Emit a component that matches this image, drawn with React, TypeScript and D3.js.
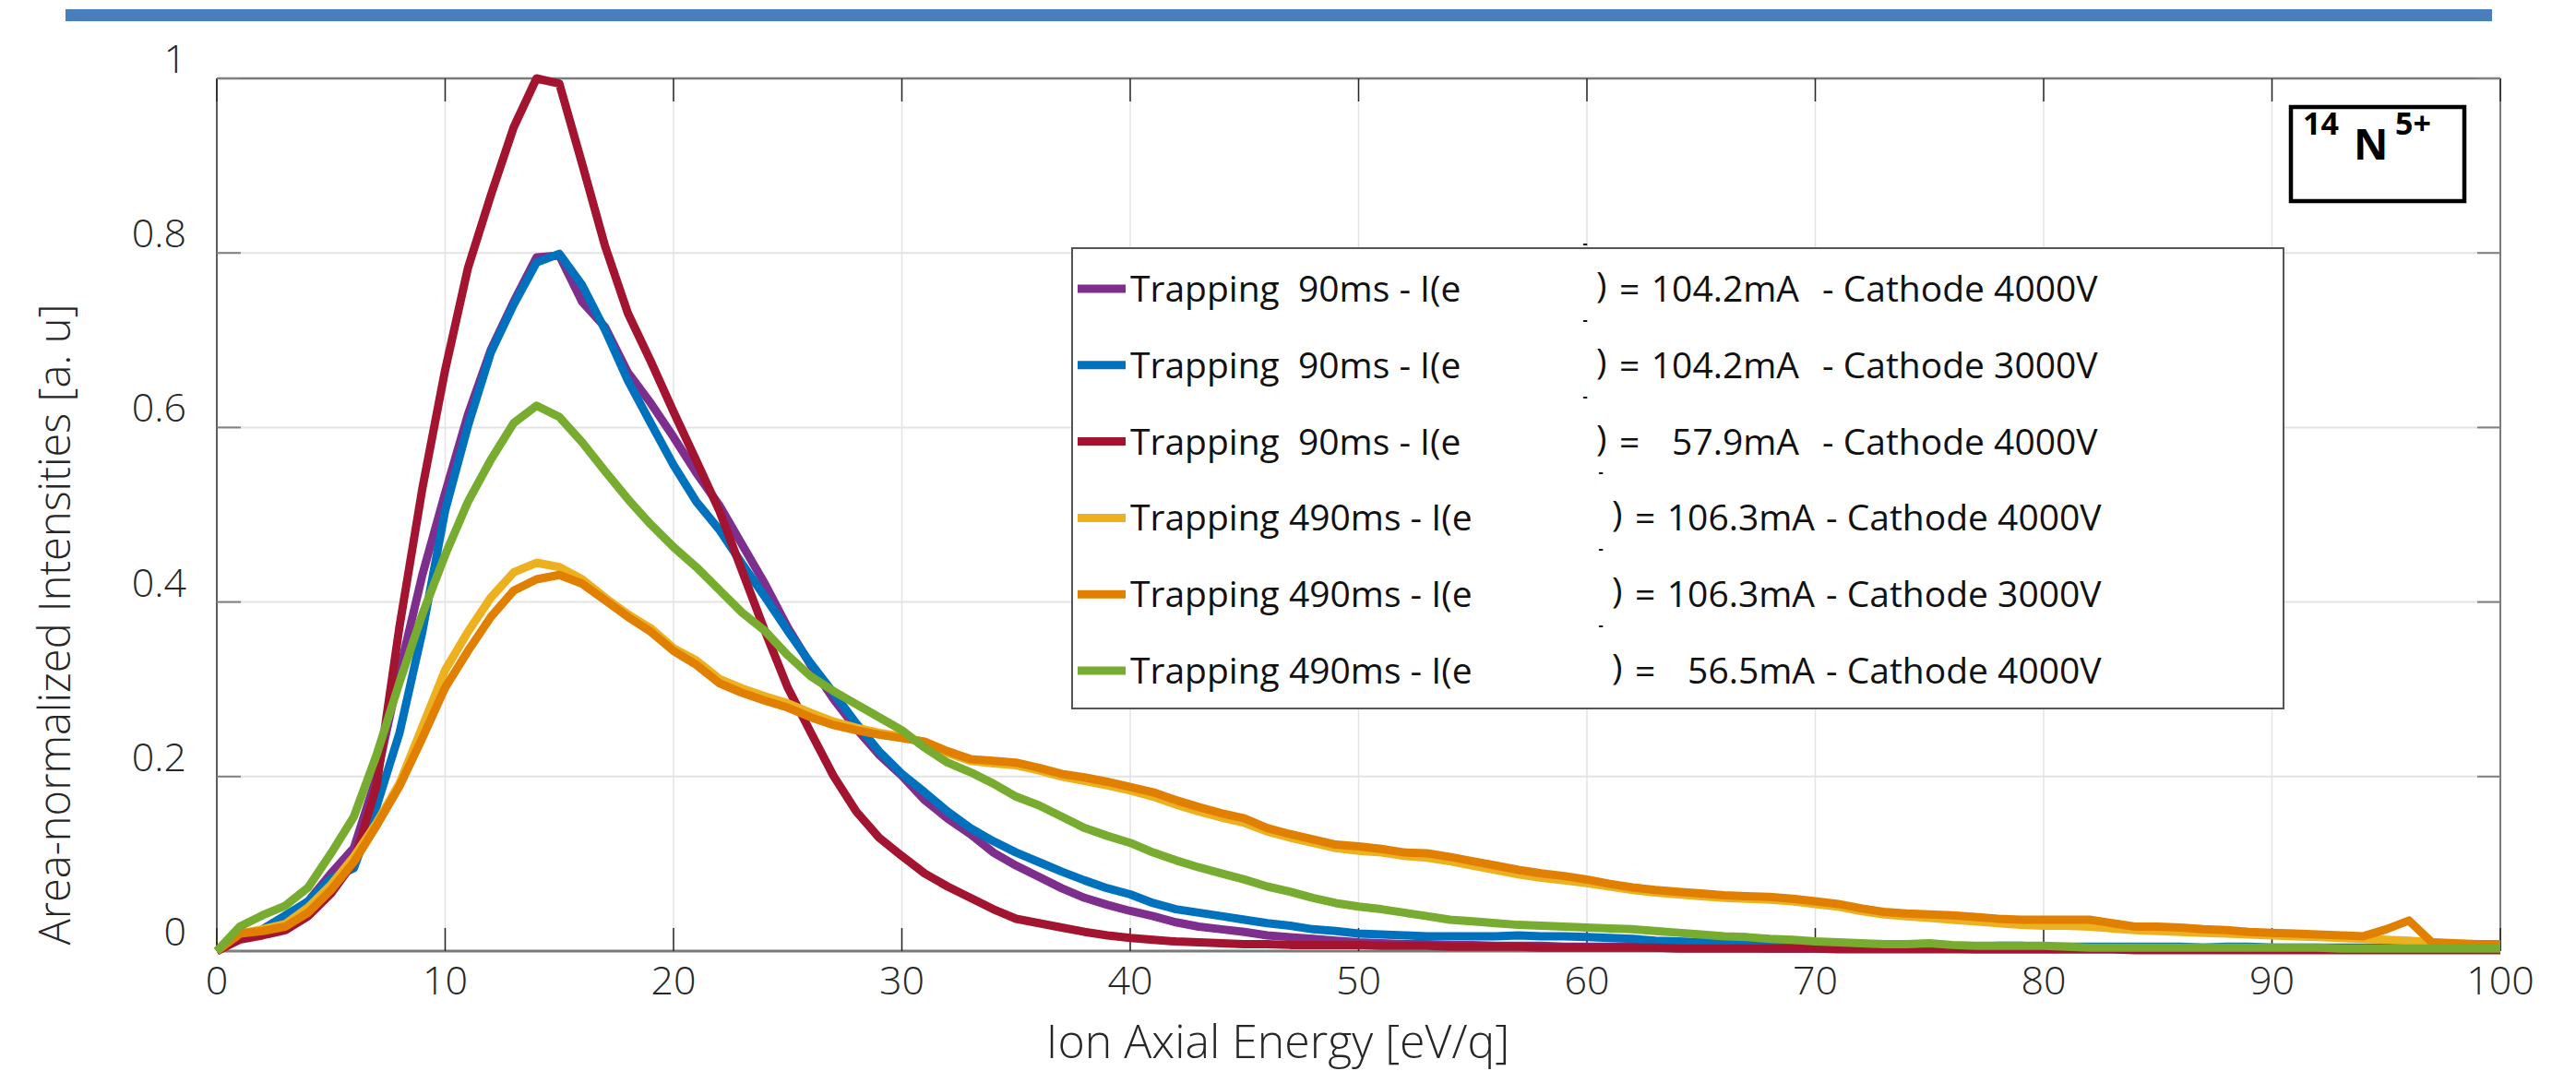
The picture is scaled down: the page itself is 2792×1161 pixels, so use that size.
import React from "react";
import * as d3 from "d3";

// Ion axial energy grid [eV/q]
const energies = [
  0, 1, 2, 3, 4, 5, 6, 7, 8, 9, 10, 11, 12, 13, 14, 15, 16, 17, 18, 19,
  20, 21, 22, 23, 24, 25, 26, 27, 28, 29, 30, 31, 32, 33, 34, 35, 36, 37, 38, 39,
  40, 41, 42, 43, 44, 45, 46, 47, 48, 49, 50, 51, 52, 53, 54, 55, 56, 57, 58, 59,
  60, 61, 62, 63, 64, 65, 66, 67, 68, 69, 70, 71, 72, 73, 74, 75, 76, 77, 78, 79,
  80, 81, 82, 83, 84, 85, 86, 87, 88, 89, 90, 91, 92, 93, 94, 95, 96, 97, 98, 99, 100,
];

// 90ms, 104.2mA, cathode 4000V
const purple90 = [
  0, 0.015, 0.021, 0.037, 0.057, 0.089, 0.118, 0.2, 0.32, 0.431,
  0.525, 0.615, 0.689, 0.744, 0.795, 0.797, 0.744, 0.715, 0.663, 0.628,
  0.589, 0.548, 0.511, 0.466, 0.421, 0.371, 0.328, 0.289, 0.255, 0.225,
  0.201, 0.173, 0.152, 0.134, 0.113, 0.098, 0.085, 0.072, 0.061, 0.053,
  0.046, 0.04, 0.033, 0.028, 0.025, 0.022, 0.018, 0.016, 0.014, 0.012,
  0.01, 0.009, 0.008, 0.008, 0.007, 0.007, 0.006, 0.006, 0.006, 0.005,
  0.005, 0.005, 0.005, 0.004, 0.004, 0.004, 0.004, 0.004, 0.003, 0.003,
  0.003, 0.003, 0.003, 0.003, 0.003, 0.003, 0.003, 0.002, 0.002, 0.002,
  0.002, 0.002, 0.002, 0.002, 0.002, 0.002, 0.002, 0.002, 0.002, 0.002,
  0.002, 0.002, 0.002, 0.002, 0.002, 0.002, 0.002, 0.002, 0.002, 0.002,
  0.002,
];

// 90ms, 104.2mA, cathode 3000V
const blue90 = [
  0, 0.015, 0.025, 0.041, 0.057, 0.083, 0.095, 0.166, 0.25, 0.366,
  0.505, 0.602, 0.686, 0.741, 0.789, 0.799, 0.763, 0.712, 0.654, 0.605,
  0.557, 0.515, 0.483, 0.444, 0.406, 0.367, 0.33, 0.296, 0.261, 0.229,
  0.203, 0.182, 0.16, 0.141, 0.126, 0.113, 0.102, 0.091, 0.081, 0.072,
  0.065, 0.055, 0.048, 0.044, 0.04, 0.036, 0.032, 0.029, 0.025, 0.023,
  0.02, 0.019, 0.018, 0.017, 0.017, 0.017, 0.017, 0.018, 0.017, 0.017,
  0.016, 0.015, 0.014, 0.012, 0.011, 0.01, 0.009, 0.008, 0.008, 0.007,
  0.007, 0.006, 0.006, 0.006, 0.006, 0.005, 0.005, 0.005, 0.006, 0.006,
  0.005, 0.005, 0.005, 0.005, 0.005, 0.005, 0.005, 0.004, 0.005, 0.005,
  0.004, 0.004, 0.004, 0.004, 0.004, 0.004, 0.004, 0.004, 0.004, 0.004,
  0.004,
];

// 90ms, 57.9mA, cathode 4000V
const red90 = [
  0, 0.013, 0.018, 0.024, 0.04, 0.066, 0.102, 0.19, 0.372, 0.53,
  0.666, 0.783, 0.866, 0.944, 1.0, 0.994, 0.902, 0.808, 0.731, 0.676,
  0.618, 0.562, 0.505, 0.436, 0.367, 0.302, 0.251, 0.201, 0.16, 0.13,
  0.109, 0.089, 0.074, 0.061, 0.048, 0.037, 0.032, 0.027, 0.022, 0.018,
  0.015, 0.013, 0.011, 0.01, 0.009, 0.008, 0.008, 0.007, 0.007, 0.007,
  0.007, 0.006, 0.006, 0.006, 0.005, 0.005, 0.005, 0.005, 0.004, 0.004,
  0.004, 0.004, 0.004, 0.004, 0.003, 0.003, 0.003, 0.003, 0.003, 0.003,
  0.003, 0.002, 0.002, 0.002, 0.002, 0.002, 0.002, 0.002, 0.002, 0.002,
  0.002, 0.002, 0.002, 0.002, 0.001, 0.001, 0.001, 0.001, 0.001, 0.001,
  0.001, 0.001, 0.001, 0.001, 0.001, 0.001, 0.001, 0.001, 0.001, 0.001,
  0.001,
];

// 490ms, 106.3mA, cathode 4000V
const yellow490 = [
  0, 0.02, 0.025, 0.031, 0.05, 0.076, 0.108, 0.147, 0.192, 0.257,
  0.322, 0.366, 0.405, 0.434, 0.445, 0.44, 0.426, 0.405, 0.386, 0.37,
  0.347, 0.333, 0.312, 0.301, 0.292, 0.284, 0.273, 0.263, 0.256, 0.25,
  0.246, 0.239, 0.227, 0.218, 0.215, 0.213, 0.207, 0.2, 0.195, 0.19,
  0.184, 0.177, 0.168, 0.16, 0.153, 0.147, 0.137, 0.13, 0.124, 0.118,
  0.115, 0.113, 0.109, 0.107, 0.103, 0.098, 0.093, 0.088, 0.084, 0.081,
  0.078, 0.074, 0.07, 0.067, 0.065, 0.063, 0.061, 0.06, 0.059, 0.057,
  0.054, 0.051, 0.046, 0.042, 0.04, 0.038, 0.036, 0.034, 0.032, 0.03,
  0.029, 0.029, 0.028, 0.026, 0.024, 0.023, 0.022, 0.021, 0.02, 0.019,
  0.018, 0.017, 0.016, 0.015, 0.014, 0.013, 0.012, 0.01, 0.008, 0.007,
  0.007,
];

// 490ms, 106.3mA, cathode 3000V
const orange490 = [
  0, 0.02, 0.023, 0.028, 0.044, 0.07, 0.102, 0.144, 0.189, 0.244,
  0.302, 0.344, 0.383, 0.413, 0.426, 0.431, 0.421, 0.402, 0.383, 0.366,
  0.344, 0.328, 0.307, 0.296, 0.287, 0.279, 0.268, 0.259, 0.253, 0.248,
  0.244, 0.24, 0.229, 0.22, 0.218, 0.216, 0.21, 0.203, 0.199, 0.194,
  0.188, 0.182, 0.173, 0.165, 0.158, 0.152, 0.141, 0.134, 0.128, 0.122,
  0.12, 0.117, 0.113, 0.112, 0.108, 0.103, 0.098, 0.093, 0.089, 0.086,
  0.082, 0.077, 0.073, 0.07, 0.068, 0.066, 0.064, 0.063, 0.062, 0.06,
  0.057, 0.054, 0.049, 0.045, 0.043, 0.042, 0.041, 0.039, 0.037, 0.036,
  0.036, 0.036, 0.036, 0.032, 0.028, 0.028, 0.027, 0.025, 0.024, 0.022,
  0.021, 0.02, 0.019, 0.018, 0.017, 0.025, 0.035, 0.01, 0.009, 0.008,
  0.008,
];

// 490ms, 56.5mA, cathode 4000V
const green490 = [
  0, 0.028, 0.041, 0.052, 0.073, 0.112, 0.154, 0.225, 0.308, 0.386,
  0.454, 0.515, 0.563, 0.605, 0.625, 0.612, 0.583, 0.55, 0.518, 0.489,
  0.463, 0.44, 0.414, 0.388, 0.367, 0.339, 0.315, 0.298, 0.283, 0.268,
  0.253, 0.233, 0.216, 0.205, 0.192, 0.177, 0.167, 0.154, 0.141, 0.132,
  0.124, 0.113, 0.104, 0.096, 0.089, 0.082, 0.074, 0.068, 0.061, 0.055,
  0.051, 0.048, 0.044, 0.04, 0.036, 0.034, 0.032, 0.03, 0.029, 0.028,
  0.027, 0.026, 0.025, 0.023, 0.021, 0.019, 0.017, 0.016, 0.014, 0.013,
  0.011, 0.01, 0.009, 0.008, 0.008, 0.009, 0.007, 0.006, 0.006, 0.006,
  0.006, 0.005, 0.004, 0.004, 0.004, 0.004, 0.004, 0.004, 0.004, 0.004,
  0.004, 0.004, 0.004, 0.003, 0.003, 0.003, 0.003, 0.003, 0.003, 0.003,
  0.003,
];

const seriesValues = [purple90, blue90, red90, yellow490, orange490, green490];
const seriesColors = ["#7E2F8E", "#0072BD", "#A2142F", "#EDB120", "#E07F00", "#77AC30"];

const legendPrefix = [
  "Trapping  90ms - I(e",
  "Trapping  90ms - I(e",
  "Trapping  90ms - I(e",
  "Trapping 490ms - I(e",
  "Trapping 490ms - I(e",
  "Trapping 490ms - I(e",
];
const legendCurrent = ["104.2mA", "104.2mA", "57.9mA", "106.3mA", "106.3mA", "56.5mA"];
const legendCathode = ["4000V", "3000V", "4000V", "4000V", "3000V", "4000V"];

const xTicks = [0, 10, 20, 30, 40, 50, 60, 70, 80, 90, 100];
const yTicks = [0, 0.2, 0.4, 0.6, 0.8, 1];

const FONT = "'Open Sans', 'DejaVu Sans', sans-serif";

export default function App() {
  const W = 2792;
  const H = 1161;
  const left = 235;
  const right = 2710;
  const top = 85;
  const bottom = 1031;

  const x = d3.scaleLinear().domain([0, 100]).range([left, right]);
  const y = d3.scaleLinear().domain([0, 1]).range([bottom, top]);

  const line = d3
    .line<number>()
    .x((_, i) => x(energies[i]))
    .y((d) => y(d));

  // legend layout
  const legX = 1162;
  const legY = 269;
  const legW = 1313;
  const legH = 499;
  const rowY = (i: number) => 313 + i * 82.8;
  const pre = { whiteSpace: "pre" as const };

  return (
    <div style={{ position: "absolute", left: 0, top: 0 }}>
      <svg width={W} height={H} style={{ display: "block", background: "#fff" }} fontFamily={FONT}>
        {/* top banner */}
        <rect x={71} y={10} width={2630} height={13} fill="#4A7EBB" />

        {/* grid */}
        {xTicks.slice(1, -1).map((t) => (
          <line key={"gx" + t} x1={x(t)} x2={x(t)} y1={top} y2={bottom} stroke="#e3e3e3" strokeWidth={1.5} />
        ))}
        {yTicks.slice(1, -1).map((t) => (
          <line key={"gy" + t} x1={left} x2={right} y1={y(t)} y2={y(t)} stroke="#e3e3e3" strokeWidth={2} />
        ))}

        {/* box */}
        <line x1={left} x2={right} y1={top} y2={top} stroke="#7a7a7a" strokeWidth={2.5} />
        <line x1={right} x2={right} y1={top} y2={bottom} stroke="#7a7a7a" strokeWidth={2} />
        <line x1={left} x2={right} y1={bottom} y2={bottom} stroke="#7a7a7a" strokeWidth={3} />
        <line x1={left} x2={left} y1={top} y2={bottom} stroke="#262626" strokeWidth={1.5} />

        {/* ticks */}
        {xTicks.map((t) => (
          <g key={"tx" + t}>
            <line x1={x(t)} x2={x(t)} y1={bottom} y2={bottom - 25} stroke="#262626" strokeWidth={1.5} />
            <line x1={x(t)} x2={x(t)} y1={top} y2={top + 25} stroke="#262626" strokeWidth={1.5} />
          </g>
        ))}
        {yTicks.map((t) => (
          <g key={"ty" + t}>
            <line x1={left} x2={left + 26} y1={y(t)} y2={y(t)} stroke="#808080" strokeWidth={2} />
            <line x1={right} x2={right - 25} y1={y(t)} y2={y(t)} stroke="#808080" strokeWidth={2} />
          </g>
        ))}

        {/* tick labels */}
        {xTicks.map((t) => (
          <text key={"lx" + t} x={x(t)} y={1078} fontSize={43} fontWeight={300} textAnchor="middle" fill="#262626">
            {t}
          </text>
        ))}
        {yTicks.map((t) => (
          <text key={"ly" + t} x={202} y={y(t) - 6} fontSize={43} fontWeight={300} textAnchor="end" fill="#262626">
            {t}
          </text>
        ))}

        {/* axis titles */}
        <text x={1385} y={1147} fontSize={50} fontWeight={300} textAnchor="middle" fill="#262626">
          Ion Axial Energy [eV/q]
        </text>
        <text
          transform="translate(76,677) rotate(-90)"
          fontSize={47}
          fontWeight={300}
          textAnchor="middle"
          fill="#262626"
        >
          Area-normalized Intensities [a. u]
        </text>

        {/* data */}
        {seriesValues.map((vals, i) => (
          <path
            key={"s" + i}
            d={line(vals) || ""}
            fill="none"
            stroke={seriesColors[i]}
            strokeWidth={9}
            strokeLinejoin="round"
          />
        ))}

        {/* legend */}
        <rect x={legX} y={legY} width={legW} height={legH} fill="#fff" stroke="#555" strokeWidth={2} />
        {legendPrefix.map((p, i) => {
          const cy = rowY(i);
          const b = i < 3 ? 0 : 17;
          return (
            <g key={"lg" + i} fontSize={39} fill="#111">
              <line x1={1168} x2={1220} y1={cy} y2={cy} stroke={seriesColors[i]} strokeWidth={9} />
              <text x={1225} y={cy + 14} xmlSpace="preserve" style={pre}>{p}</text>
              <text x={1718 + b} y={cy - 44} fontSize={16} fontWeight={700} textAnchor="middle">-</text>
              <text x={1730 + b} y={cy + 10}>)</text>
              <text x={1755 + b} y={cy + 14}>=</text>
              <text x={1950 + b} y={cy + 14} textAnchor="end">{legendCurrent[i]}</text>
              <text x={1975 + (i < 3 ? 0 : 4)} y={cy + 14}>{"- Cathode " + legendCathode[i]}</text>
            </g>
          );
        })}

        {/* ion label */}
        <rect x={2483} y={116} width={188} height={102} fill="#fff" stroke="#000" strokeWidth={4.5} />
        <g fontWeight={700} fill="#000">
          <text x={2496} y={146} fontSize={34}>14</text>
          <text x={2551} y={173} fontSize={46}>N</text>
          <text x={2596} y={146} fontSize={34}>5+</text>
        </g>
      </svg>
    </div>
  );
}
